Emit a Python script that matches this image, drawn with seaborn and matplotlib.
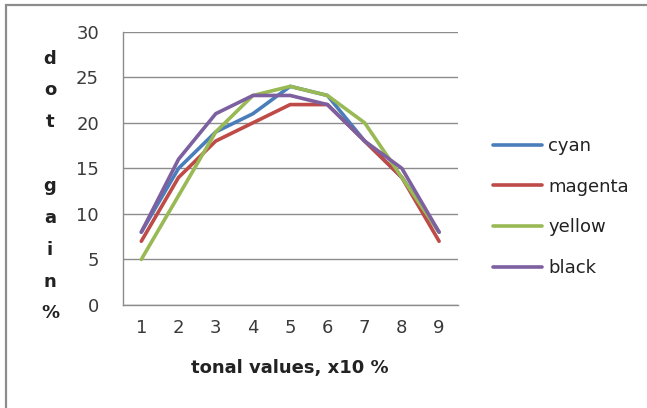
import matplotlib
matplotlib.use("Agg")
import matplotlib.pyplot as plt
import matplotlib.patches as mpatches
from matplotlib.ticker import FixedLocator
import seaborn as sns
import pandas as pd

tones = [1, 2, 3, 4, 5, 6, 7, 8, 9]
cyan = [8, 15, 19, 21, 24, 23, 18, 14, 8]
magenta = [7, 14, 18, 20, 22, 22, 18, 14, 7]
yellow = [5, 12, 19, 23, 24, 23, 20, 14, 8]
black = [8, 16, 21, 23, 23, 22, 18, 15, 8]
series_names = ["cyan", "magenta", "yellow", "black"]
colors = ["#4A7EBB", "#BE4B48", "#98B954", "#7D60A0"]

rows = []
for name, vals in zip(series_names, [cyan, magenta, yellow, black]):
    for i, (t, v) in enumerate(zip(tones, vals)):
        rows.append({"pos": i, "tone": t, "value": v, "series": name})
df = pd.DataFrame(rows)

sns.set_theme(style="white")
plt.rcParams["font.family"] = ["DejaVu Sans"]

FS = 13
W, H = 647, 408
fig = plt.figure(figsize=(W / 100, H / 100), dpi=100)
ax = fig.add_axes([122.7 / W, 1 - 305 / H, (457.7 - 122.7) / W, (305 - 31.7) / H])

sns.lineplot(data=df, x="pos", y="value", hue="series", palette=colors,
             hue_order=series_names, linewidth=2.6, ax=ax, legend=False,
             solid_capstyle="round")

ax.set_xlim(-0.5, 8.5)
ax.set_ylim(0, 30)
ax.set_yticks([0, 5, 10, 15, 20, 25, 30])
ax.set_xticks(range(len(tones)))
ax.set_xticklabels([str(t) for t in tones])
ax.xaxis.set_minor_locator(FixedLocator([i - 0.5 for i in range(len(tones) + 1)]))
ax.tick_params(axis="x", which="major", length=0, pad=10, labelsize=FS, colors="#3a3a3a")
ax.tick_params(axis="x", which="minor", length=6, width=1, color="#8c8c8c", direction="out")
ax.tick_params(axis="y", length=5, width=1, color="#8c8c8c", direction="out",
               labelsize=FS, pad=12, labelcolor="#3a3a3a")
ax.grid(axis="y", color="#8c8c8c", linewidth=1)
ax.set_axisbelow(True)
for s in ["top", "right"]:
    ax.spines[s].set_visible(False)
for s in ["left", "bottom"]:
    ax.spines[s].set_color("#8c8c8c")
    ax.spines[s].set_linewidth(1)
ax.set_xlabel("")
ax.set_ylabel("")

fig.text(290 / W, 1 - 368 / H, "tonal values, x10 %", ha="center", va="center",
         fontsize=FS, fontweight="bold", color="#222222")
fig.text(50 / W, 1 - 186 / H, "d\no\nt\n\ng\na\ni\nn\n%", ha="center", va="center",
         fontsize=FS, fontweight="bold", color="#222222", linespacing=1.99)

handles = [plt.Line2D([0], [0], color=c, linewidth=2.6, solid_capstyle="round") for c in colors]
fig.legend(handles, series_names, loc="center left",
           bbox_to_anchor=(477 / W, 1 - 207 / H), frameon=False, fontsize=FS,
           handlelength=2.7, handletextpad=0.35, labelspacing=1.25, labelcolor="#222222")

border = mpatches.Rectangle((6 / W, -0.2), 1.5, 1.2 - 5 / H, transform=fig.transFigure,
                            fill=False, edgecolor="#8c8c8c", linewidth=1.6)
fig.patches.append(border)

fig.savefig("out.png", dpi=100)
